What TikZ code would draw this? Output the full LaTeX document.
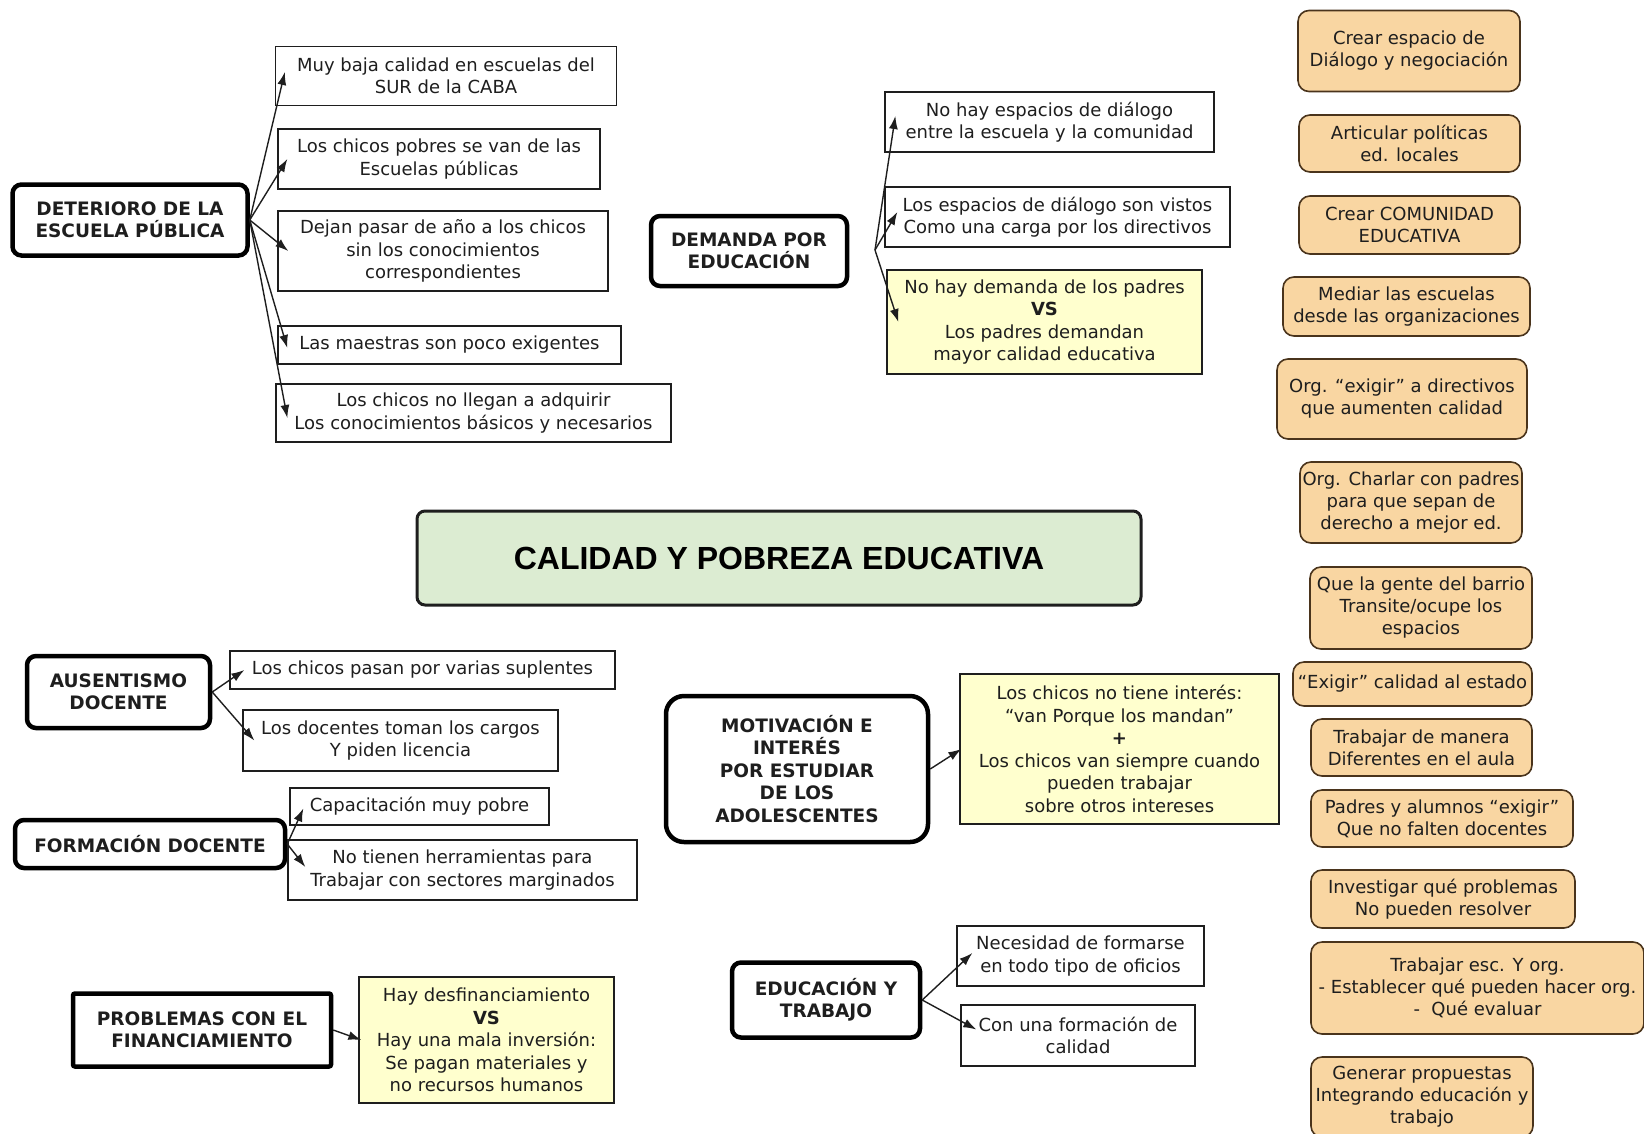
\documentclass[tikz,border=0pt]{standalone}
\usepackage{fontspec}
\setmainfont{DejaVu Sans}
\newfontfamily\titlefamily{Liberation Sans}
\usetikzlibrary{arrows.meta}
\definecolor{titlegreen}{RGB}{220,236,210}
\definecolor{vsyellow}{RGB}{255,255,206}
\definecolor{propfill}{RGB}{249,214,162}
\definecolor{propline}{RGB}{74,52,28}
\definecolor{ink}{RGB}{30,30,30}
\tikzset{
  title/.style={draw=ink, line width=3pt, rounded corners=8pt, fill=titlegreen,
    font=\titlefamily\bfseries\fontsize{32}{38}\selectfont, inner sep=0pt},
  topic/.style={draw=black, line width=4.5pt, rounded corners=9pt, fill=white,
    font=\bfseries\fontsize{18.5}{22.5}\selectfont, align=center, inner sep=0pt, text=ink},
  idea/.style={draw=ink, line width=1.3pt, fill=white,
    font=\fontsize{18}{22.5}\selectfont, align=center, inner sep=0pt, text=ink},
  contrast/.style={idea, fill=vsyellow},
  proposal/.style={draw=propline, line width=1.6pt, rounded corners=11pt, fill=propfill,
    font=\fontsize{18}{22}\selectfont, align=center, inner sep=0pt, text=ink},
  link/.style={-{Latex[length=13pt,width=9pt]}, line width=1.4pt, draw=ink}
}
\begin{document}
\begin{tikzpicture}[x=1pt,y=-1pt]
  \useasboundingbox (0,0) rectangle (1644,1133);
  \node[title, minimum width=724, minimum height=94] (calidad) at (779,558) {CALIDAD Y POBREZA EDUCATIVA};

  % ejes del mapa
  \node[topic, minimum width=235, minimum height=71] (det) at (130,220) {DETERIORO DE LA\\ESCUELA PÚBLICA};
  \node[topic, minimum width=196, minimum height=70] (dem) at (749,251) {DEMANDA POR\\EDUCACIÓN};
  \node[topic, minimum width=183, minimum height=72] (aus) at (118.5,692) {AUSENTISMO\\DOCENTE};
  \node[topic, minimum width=270, minimum height=48] (form) at (150,844) {FORMACIÓN DOCENTE};
  \node[topic, rounded corners=2pt, minimum width=258, minimum height=73] (fin) at (202,1030) {PROBLEMAS CON EL\\FINANCIAMIENTO};
  \node[topic, rounded corners=18pt, minimum width=262, minimum height=146] (motiv) at (797,769) {MOTIVACIÓN E\\INTERÉS\\POR ESTUDIAR\\DE LOS\\ADOLESCENTES};
  \node[topic, minimum width=188, minimum height=75] (trab) at (826,1000) {EDUCACIÓN Y\\TRABAJO};

  % problemas
  \node[idea, minimum width=341, minimum height=59] (det1) at (446,76) {Muy baja calidad en escuelas del\\SUR de la CABA};
  \node[idea, minimum width=322, minimum height=60] (det2) at (439,159) {Los chicos pobres se van de las\\Escuelas públicas};
  \node[idea, minimum width=330, minimum height=80] (det3) at (443,251) {Dejan pasar de año a los chicos\\sin los conocimientos\\correspondientes};
  \node[idea, minimum width=343, minimum height=38] (det4) at (449.5,345) {Las maestras son poco exigentes};
  \node[idea, minimum width=395, minimum height=58] (det5) at (473.5,413) {Los chicos no llegan a adquirir\\Los conocimientos básicos y necesarios};
  \node[idea, minimum width=329, minimum height=60] (dem1) at (1049.5,122) {No hay espacios de diálogo\\entre la escuela y la comunidad};
  \node[idea, minimum width=345, minimum height=60] (dem2) at (1057.5,217) {Los espacios de diálogo son vistos\\Como una carga por los directivos};
  \node[contrast, minimum width=315, minimum height=104] (dem3) at (1044.5,322) {No hay demanda de los padres\\\textbf{VS}\\Los padres demandan\\mayor calidad educativa};
  \node[idea, minimum width=385, minimum height=38] (aus1) at (422.5,670) {Los chicos pasan por varias suplentes};
  \node[idea, minimum width=315, minimum height=61] (aus2) at (400.5,740.5) {Los docentes toman los cargos\\Y piden licencia};
  \node[idea, minimum width=259, minimum height=37] (form1) at (419.5,806.5) {Capacitación muy pobre};
  \node[idea, minimum width=349, minimum height=60] (form2) at (462.5,870) {No tienen herramientas para\\Trabajar con sectores marginados};
  \node[contrast, minimum width=255, minimum height=126] (fin1) at (486.5,1040) {Hay desfinanciamiento\\\textbf{VS}\\Hay una mala inversión:\\Se pagan materiales y\\no recursos humanos};
  \node[contrast, minimum width=319, minimum height=150] (motiv1) at (1119.5,749) {Los chicos no tiene interés:\\“van Porque los mandan”\\\textbf{+}\\Los chicos van siempre cuando\\pueden trabajar\\sobre otros intereses};
  \node[idea, minimum width=247, minimum height=60] (trab1) at (1080.5,956) {Necesidad de formarse\\en todo tipo de oficios};
  \node[idea, minimum width=234, minimum height=61] (trab2) at (1078,1035.5) {Con una formación de\\calidad};

  % propuestas
  \node[proposal, minimum width=222, minimum height=81] (p1) at (1409,51) {Crear espacio de\\Diálogo y negociación};
  \node[proposal, minimum width=221, minimum height=57] (p2) at (1409.5,143.5) {Articular políticas\\ed. locales};
  \node[proposal, minimum width=221, minimum height=58] (p3) at (1409.5,225) {Crear COMUNIDAD\\EDUCATIVA};
  \node[proposal, minimum width=247, minimum height=59] (p4) at (1406.5,306.5) {Mediar las escuelas\\desde las organizaciones};
  \node[proposal, minimum width=250, minimum height=80] (p5) at (1402,399) {Org. “exigir” a directivos\\que aumenten calidad};
  \node[proposal, minimum width=222, minimum height=81] (p6) at (1411,502.5) {Org. Charlar con padres\\para que sepan de\\derecho a mejor ed.};
  \node[proposal, minimum width=222, minimum height=82] (p7) at (1421,608) {Que la gente del barrio\\Transite/ocupe los\\espacios};
  \node[proposal, minimum width=239, minimum height=44] (p8) at (1412.5,684) {“Exigir” calidad al estado};
  \node[proposal, minimum width=221, minimum height=57] (p9) at (1421.5,747.5) {Trabajar de manera\\Diferentes en el aula};
  \node[proposal, minimum width=262, minimum height=57] (p10) at (1442,818.5) {Padres y alumnos “exigir”\\Que no falten docentes};
  \node[proposal, minimum width=264, minimum height=58] (p11) at (1443,899) {Investigar qué problemas\\No pueden resolver};
  \node[proposal, minimum width=333, minimum height=92] (p12) at (1477.5,988) {Trabajar esc. Y org.\\- Establecer qué pueden hacer org.\\-\ \ Qué evaluar};
  \node[proposal, minimum width=222, minimum height=80] (p13) at (1422,1097) {Generar propuestas\\Integrando educación y\\trabajo};

  \coordinate (demfork) at (875,250);
  \begin{scope}[link]
    \draw (det.east) to ([xshift=10pt,yshift=4pt]det1.west);
    \draw (det.east) to ([xshift=10pt]det2.west);
    \draw (det.east) to ([xshift=11pt]det3.west);
    \draw (det.east) to ([xshift=10pt,yshift=-3pt]det4.west);
    \draw (det.east) to ([xshift=12pt,yshift=-5pt]det5.west);
    \draw (demfork) to ([xshift=11pt,yshift=6pt]dem1.west);
    \draw (demfork) to ([xshift=13pt,yshift=5pt]dem2.west);
    \draw (demfork) to ([xshift=12pt]dem3.west);
    \draw (aus.east) to ([xshift=15pt]aus1.west);
    \draw (aus.east) to ([xshift=12pt]aus2.west);
    \draw (form.east) to ([xshift=14pt,yshift=-2pt]form1.west);
    \draw (form.east) to ([xshift=18pt,yshift=3pt]form2.west);
    \draw (fin.east) to ([xshift=3pt]fin1.west);
    \draw (motiv.east) to ([xshift=2pt]motiv1.west);
    \draw (trab.east) to ([xshift=16pt,yshift=3pt]trab1.west);
    \draw (trab.east) to ([xshift=16pt,yshift=6pt]trab2.west);
  \end{scope}
\end{tikzpicture}
\end{document}
